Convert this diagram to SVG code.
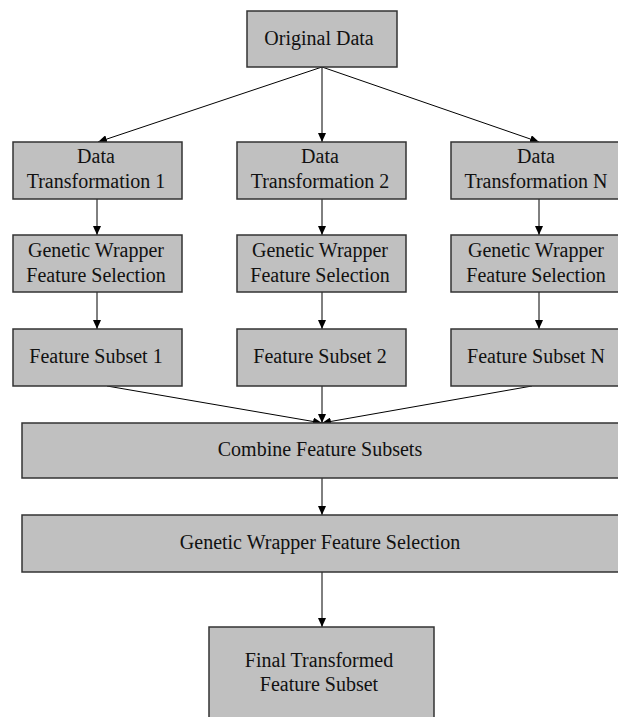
<svg xmlns="http://www.w3.org/2000/svg" width="618" height="717" viewBox="0 0 618 717">
<style>
.box{fill:#c0c0c0;stroke:#333;stroke-width:1.5}
text{font-family:'Liberation Serif','DejaVu Serif',serif;font-size:20px;fill:#111;text-anchor:middle}
.c{stroke:#000;stroke-width:1;fill:none;marker-end:url(#ah)}
</style>
<defs>
<marker id="ah" markerUnits="userSpaceOnUse" markerWidth="10" markerHeight="8" refX="9" refY="4" orient="auto">
<path d="M0,0 L9,4 L0,8 z" fill="#000"/>
</marker>
</defs>
<rect width="618" height="717" fill="#fff"/>
<g id="connectors">
<line class="c" x1="322" y1="67" x2="98" y2="142"/>
<line class="c" x1="322" y1="67" x2="322" y2="142"/>
<line class="c" x1="322" y1="67" x2="539" y2="142"/>
<line class="c" x1="97" y1="199" x2="97" y2="235"/>
<line class="c" x1="322" y1="199" x2="322" y2="235"/>
<line class="c" x1="539" y1="199" x2="539" y2="235"/>
<line class="c" x1="97" y1="292" x2="97" y2="329"/>
<line class="c" x1="322" y1="292" x2="322" y2="329"/>
<line class="c" x1="539" y1="292" x2="539" y2="329"/>
<line class="c" x1="107" y1="386" x2="322" y2="423"/>
<line class="c" x1="322" y1="386" x2="322" y2="423"/>
<line class="c" x1="532" y1="386" x2="322" y2="423"/>
<line class="c" x1="322" y1="478" x2="322" y2="515"/>
<line class="c" x1="322" y1="572" x2="322" y2="627"/>
</g>
<g id="original" font-family="Liberation Serif, serif">
<rect class="box" x="247" y="11" width="150" height="56"/>
<text x="319" y="45">Original Data</text>
</g>
<g id="dt1">
<rect class="box" x="13" y="142" width="169" height="57"/>
<text x="96" y="163">Data</text>
<text x="96" y="188">Transformation 1</text>
</g>
<g id="dt2">
<rect class="box" x="237" y="142" width="169" height="57"/>
<text x="320" y="163">Data</text>
<text x="320" y="188">Transformation 2</text>
</g>
<g id="dtn">
<rect class="box" x="451" y="142" width="176" height="57"/>
<text x="536" y="163">Data</text>
<text x="536" y="188">Transformation N</text>
</g>
<g id="gw1">
<rect class="box" x="13" y="235" width="169" height="57"/>
<text x="96" y="257">Genetic Wrapper</text>
<text x="96" y="282">Feature Selection</text>
</g>
<g id="gw2">
<rect class="box" x="237" y="235" width="169" height="57"/>
<text x="320" y="257">Genetic Wrapper</text>
<text x="320" y="282">Feature Selection</text>
</g>
<g id="gwn">
<rect class="box" x="451" y="235" width="176" height="57"/>
<text x="536" y="257">Genetic Wrapper</text>
<text x="536" y="282">Feature Selection</text>
</g>
<g id="fs1">
<rect class="box" x="13" y="329" width="169" height="57"/>
<text x="96" y="363">Feature Subset 1</text>
</g>
<g id="fs2">
<rect class="box" x="237" y="329" width="169" height="57"/>
<text x="320" y="363">Feature Subset 2</text>
</g>
<g id="fsn">
<rect class="box" x="451" y="329" width="176" height="57"/>
<text x="536" y="363">Feature Subset N</text>
</g>
<g id="combine">
<rect class="box" x="22" y="423" width="610" height="55"/>
<text x="320" y="456">Combine Feature Subsets</text>
</g>
<g id="gwfinal">
<rect class="box" x="22" y="515" width="610" height="57"/>
<text x="320" y="549">Genetic Wrapper Feature Selection</text>
</g>
<g id="final">
<rect class="box" x="209" y="627" width="225" height="100"/>
<text x="319" y="667">Final Transformed</text>
<text x="319" y="691">Feature Subset</text>
</g>
</svg>
